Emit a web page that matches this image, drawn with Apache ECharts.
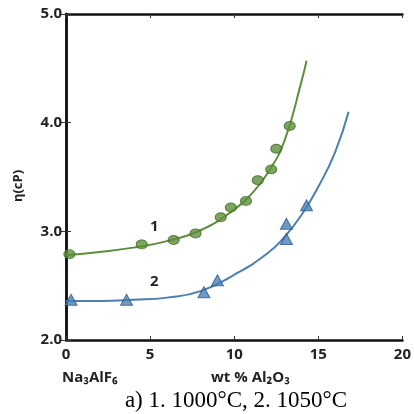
<!DOCTYPE html>
<html>
<head>
<meta charset="utf-8">
<script src="https://cdn.jsdelivr.net/npm/echarts@6/dist/echarts.min.js"></script>
<style>
  html, body { margin: 0; padding: 0; background: #fff; }
  #chart { width: 414px; height: 414px; }
</style>
</head>
<body>
<div id="chart"></div>
<script>
// Viscosity of cryolite melts vs. alumina content
const xTicks = [0, 5, 10, 15, 20];
const yTicks = [2.0, 3.0, 4.0, 5.0];

// measured points, 1000 °C
const pts1000 = [
  [0.2, 2.79], [4.5, 2.88], [6.4, 2.92], [7.7, 2.98], [9.2, 3.13],
  [9.8, 3.22], [10.7, 3.28], [11.4, 3.47], [12.2, 3.57], [12.5, 3.76], [13.3, 3.97]
];
// fitted curve, 1000 °C
const fit1000 = [
  [0, 2.78], [2, 2.81], [4, 2.85], [6, 2.91], [8, 3.01], [10, 3.2],
  [11, 3.34], [12, 3.54], [13, 3.84], [14, 4.38], [14.3, 4.57]
];

// measured points, 1050 °C
const pts1050 = [
  [0.3, 2.37], [3.6, 2.37], [8.2, 2.44], [9.0, 2.55], [13.1, 2.93], [13.1, 3.07], [14.3, 3.24]
];
// fitted curve, 1050 °C
const fit1050 = [
  [0, 2.36], [2, 2.36], [4, 2.37], [6, 2.39], [8, 2.45], [10, 2.6],
  [12, 2.8], [13, 2.95], [14, 3.15], [15, 3.41], [16, 3.73], [16.8, 4.1]
];

const green = '#5c8f3a';
const greenDark = '#3f6b26';
const blue = '#4a7fb3';
const blueDark = '#2a5a93';

const tickFont = { fontFamily: 'Open Sans', fontWeight: 'bold', fontSize: 15, color: '#222' };

const chart = echarts.init(document.getElementById('chart'), null, { renderer: 'canvas' });

const frameLine = { show: true, lineStyle: { color: '#111', width: 2.5 } };

chart.setOption({
  animation: false,
  grid: { left: 66, right: 3, top: 14, bottom: 74 },
  xAxis: [
    {
      type: 'value', min: xTicks[0], max: xTicks[xTicks.length - 1], interval: 5,
      axisLine: frameLine,
      axisTick: { show: true, inside: true, length: 4, lineStyle: { color: '#333', width: 1 } },
      axisLabel: Object.assign({ margin: 7, formatter: v => String(v) }, tickFont),
      splitLine: { show: false }
    },
    {
      type: 'value', position: 'top', min: xTicks[0], max: xTicks[xTicks.length - 1], interval: 5,
      axisLine: frameLine,
      axisTick: { show: true, inside: true, length: 4, lineStyle: { color: '#333', width: 1 } },
      axisLabel: { show: false },
      splitLine: { show: false }
    }
  ],
  yAxis: [
    {
      type: 'value', min: yTicks[0], max: yTicks[yTicks.length - 1], interval: 1,
      axisLine: frameLine,
      axisTick: { show: true, inside: true, length: 5, lineStyle: { color: '#333', width: 1 } },
      axisLabel: Object.assign({ margin: 4, formatter: v => v.toFixed(1) }, tickFont),
      splitLine: { show: false }
    },
    {
      type: 'value', position: 'right', min: yTicks[0], max: yTicks[yTicks.length - 1], interval: 1,
      axisLine: frameLine,
      axisTick: { show: true, inside: true, length: 6, lineStyle: { color: '#333', width: 1 } },
      axisLabel: { show: false },
      splitLine: { show: false }
    }
  ],
  series: [
    {
      type: 'line', data: fit1000, smooth: 0.5, showSymbol: false,
      lineStyle: { color: green, width: 2 }, z: 2
    },
    {
      type: 'line', data: fit1050, smooth: 0.5, showSymbol: false,
      lineStyle: { color: blue, width: 2 }, z: 2
    },
    {
      type: 'scatter', data: pts1000, symbol: 'circle', symbolSize: [11, 9],
      itemStyle: { color: green, borderColor: greenDark, borderWidth: 1 }, z: 3
    },
    {
      type: 'scatter', data: pts1050, symbol: 'triangle', symbolSize: [12, 11],
      itemStyle: { color: blue, borderColor: blueDark, borderWidth: 1 }, z: 3
    }
  ],
  graphic: [
    { type: 'text', left: 150, top: 219, style: { text: '1', font: 'bold 15px "Open Sans"', fill: '#222' } },
    { type: 'text', left: 150, top: 274, style: { text: '2', font: 'bold 15px "Open Sans"', fill: '#222' } },
    {
      type: 'text', x: 18, y: 186, rotation: Math.PI / 2,
      style: { text: 'η(cP)', font: 'bold 13px "Open Sans"', fill: '#222', align: 'center', verticalAlign: 'middle' }
    },
    { type: 'text', left: 62, top: 370, style: { text: 'Na₃AlF₆', font: 'bold 15px "Open Sans"', fill: '#222' } },
    { type: 'text', left: 211, top: 370, style: { text: 'wt % Al₂O₃', font: 'bold 15px "Open Sans"', fill: '#222' } },
    {
      type: 'text', x: 236, y: 401,
      style: { text: 'a) 1. 1000°C, 2. 1050°C', font: '23px "Liberation Serif"', fill: '#000', align: 'center', verticalAlign: 'middle' }
    }
  ]
});
</script>
</body>
</html>
